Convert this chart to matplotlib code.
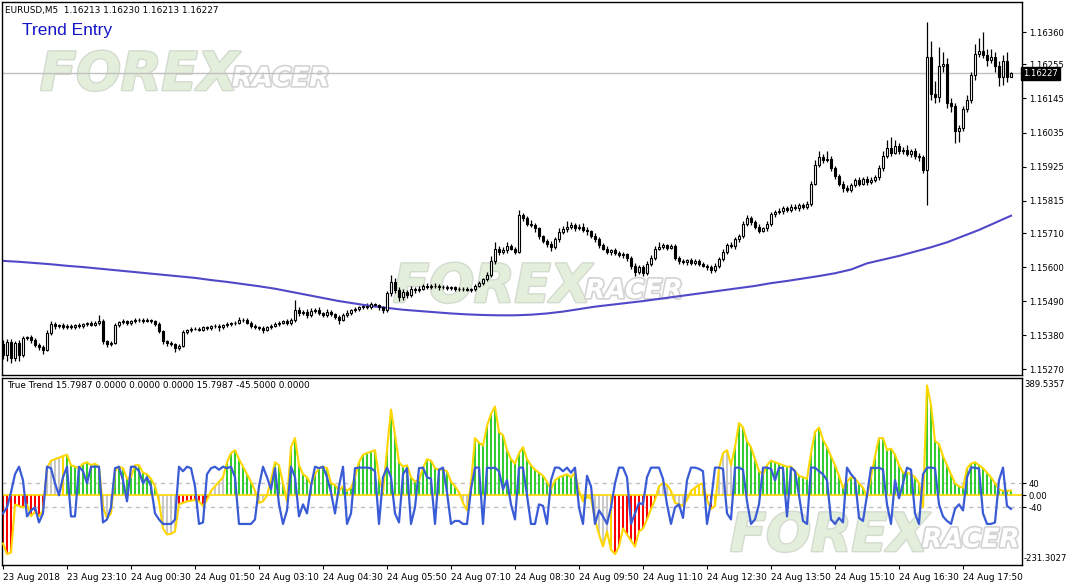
import numpy as np
import matplotlib.pyplot as plt
import matplotlib.patheffects as pe

plt.rcParams['font.family'] = ['DejaVu Sans']

# EURUSD M5, prices in points above 1.15000 (1 point = 0.00001)
first_open = 350
close_pts = [
    315, 357, 305, 354, 315, 370, 373, 364, 348, 341, 332, 387, 416, 409, 412, 406,
    410, 405, 412, 408, 415, 418, 414, 420, 425, 360, 350, 355, 412, 422, 425, 420,
    425, 428, 430, 426, 428, 424, 415, 393, 360, 354, 350, 338, 345, 390, 395, 400,
    400, 398, 405, 402, 408, 410, 406, 412, 415, 418, 420, 429, 430, 420, 410, 405,
    403, 398, 405, 410, 415, 420, 425, 418, 428, 461, 450, 455, 445, 458, 462, 450,
    445, 455, 448, 440, 430, 445, 452, 460, 465, 470, 475, 470, 480, 476, 470, 462,
    516, 551, 526, 503, 520, 510, 530, 525, 530, 540, 535, 538, 540, 535, 536, 532,
    534, 530, 528, 530, 526, 528, 540, 548, 560, 575, 620, 660, 650, 655, 668, 660,
    650, 768, 760, 740, 735, 725, 700, 685, 675, 665, 690, 712, 722, 730, 735, 726,
    728, 720, 715, 700, 690, 672, 660, 650, 655, 645, 640, 642, 630, 605, 585, 600,
    580, 610, 630, 660, 665, 670, 662, 668, 630, 620, 615, 622, 612, 620, 610, 605,
    600, 590, 605, 625, 650, 672, 668, 690, 700, 740, 760, 745, 730, 718, 725, 740,
    770, 778, 782, 790, 785, 795, 790, 800, 795, 805, 870, 930, 955, 945, 950, 920,
    895, 870, 855, 850, 865, 880, 870, 885, 875, 880, 890, 920, 960, 985, 970, 990,
    975, 980, 965, 975, 960, 955, 915, 1280, 1160, 1150, 1250, 1255, 1130, 1120, 1040, 1050,
    1110, 1140, 1220, 1290, 1300, 1285, 1270, 1280, 1250, 1215, 1265, 1213, 1227,
]
wick_up = [
    15, 10, 12, 8, 10, 8, 5, 8, 6, 5, 8, 10, 8, 6, 5, 6,
    5, 6, 4, 6, 5, 5, 6, 5, 20, 6, 5, 6, 8, 5, 6, 5,
    5, 6, 5, 5, 6, 5, 4, 6, 5, 5, 6, 5, 6, 8, 5, 6,
    6, 5, 5, 6, 5, 6, 5, 5, 6, 5, 5, 8, 6, 5, 5, 6,
    5, 6, 5, 5, 6, 5, 5, 6, 8, 32, 10, 6, 8, 10, 6, 8,
    6, 8, 6, 5, 6, 5, 8, 6, 6, 5, 6, 8, 6, 5, 6, 5,
    8, 23, 15, 10, 8, 6, 8, 6, 8, 6, 8, 6, 8, 5, 6, 5,
    6, 5, 6, 5, 6, 5, 6, 8, 6, 8, 15, 20, 8, 10, 12, 8,
    6, 16, 8, 6, 12, 8, 6, 5, 6, 8, 8, 15, 10, 20, 10, 8,
    10, 15, 8, 6, 10, 8, 6, 8, 5, 6, 8, 6, 5, 6, 8, 6,
    6, 8, 10, 8, 15, 8, 6, 8, 6, 5, 6, 5, 8, 6, 5, 6,
    5, 6, 8, 6, 8, 6, 10, 8, 6, 10, 8, 6, 8, 10, 6, 8,
    8, 6, 10, 8, 6, 8, 10, 6, 8, 10, 8, 15, 20, 10, 25, 10,
    8, 6, 8, 10, 6, 8, 10, 6, 8, 10, 8, 10, 15, 25, 35, 20,
    10, 8, 15, 8, 10, 8, 6, 112, 50, 40, 60, 40, 20, 15, 10, 10,
    10, 15, 10, 30, 40, 60, 20, 25, 15, 15, 20, 30, 3,
]
wick_dn = [
    12, 20, 15, 10, 18, 5, 6, 8, 6, 10, 12, 5, 6, 8, 5, 6,
    5, 6, 5, 4, 5, 6, 5, 5, 6, 8, 10, 5, 5, 6, 5, 6,
    6, 5, 5, 6, 5, 5, 6, 5, 8, 10, 6, 12, 5, 5, 6, 5,
    5, 6, 5, 5, 6, 5, 12, 5, 6, 5, 5, 5, 6, 5, 8, 6,
    6, 10, 5, 6, 5, 6, 5, 6, 5, 6, 8, 6, 10, 6, 8, 6,
    8, 6, 6, 8, 15, 6, 5, 6, 5, 6, 5, 6, 5, 6, 8, 10,
    6, 8, 10, 12, 8, 10, 6, 8, 6, 5, 6, 5, 6, 8, 5, 6,
    5, 6, 5, 6, 5, 6, 5, 6, 5, 6, 8, 10, 12, 8, 10, 6,
    8, 6, 10, 8, 6, 12, 10, 8, 10, 12, 6, 8, 6, 8, 6, 10,
    6, 8, 10, 6, 8, 10, 6, 8, 10, 6, 8, 10, 12, 10, 15, 8,
    10, 6, 5, 6, 5, 6, 8, 5, 8, 10, 6, 8, 6, 5, 8, 6,
    8, 10, 6, 8, 6, 8, 6, 8, 10, 6, 8, 10, 6, 8, 6, 8,
    6, 8, 6, 10, 6, 8, 6, 10, 8, 6, 8, 6, 8, 10, 6, 8,
    10, 8, 12, 6, 8, 6, 8, 6, 10, 8, 6, 8, 10, 8, 10, 6,
    8, 10, 6, 8, 10, 12, 10, 115, 20, 20, 15, 20, 15, 20, 40, 35,
    10, 10, 8, 15, 10, 10, 20, 10, 20, 30, 25, 15, 0,
]
# moving average, one value every 4 bars
ma_pts = [
    620, 617, 613, 609, 604, 600, 595, 590, 585, 580, 575, 570, 565, 558, 552, 545,
    538, 530, 520, 510, 500, 490, 482, 474, 468, 462, 458, 454, 450, 447, 445, 444,
    444, 446, 450, 456, 464, 472, 478, 484, 490, 497, 504, 511, 518, 525, 532, 539,
    548, 555, 563, 571, 580, 592, 612, 624, 636, 650, 664, 680, 700, 720, 743, 766,
]

# True Trend indicator
hist = [
    -160, -195, -190, -31, -35, -40, -30, -69, -55, -70, -50, 90, 115, 120, 125, 130,
    135, 100, 95, 90, 105, 110, 100, 105, 95, -40, -75, -60, 80, 95, 90, 55,
    60, 100, 100, 75, 70, 55, 30, -20, -110, -130, -128, -120, -30, -25, -20, -18,
    -15, -20, -35, -15, 15, 30, 45, 60, 110, 140, 150, 120, 95, 70, 45, 15,
    -25, -20, 0, 50, 110, 100, 40, -20, 160, 190, 100, 70, 60, 35, 70, 90,
    95, 90, 40, 35, 15, 30, 15, 25, 60, 110, 135, 140, 145, 150, 60, 10,
    150, 285, 200, 110, 95, 100, 60, 45, 50, 90, 120, 115, 90, 85, 85, 80,
    45, 30, 10, -25, -50, 40, 190, 175, 165, 230, 270, 295, 210, 200, 150, 120,
    105, 140, 160, 120, 100, 85, 75, 65, 45, 20, 50, 60, 65, 70, 60, 75,
    15, -20, -5, -10, -80, -130, -170, -120, -180, -195, -170, -110, -130, -150, -170, -120,
    -110, -80, -45, -15, 30, 40, 35, 15, -25, -30, -35, -15, 15, 25, 35, 40,
    -15, -45, -35, 90, 140, 150, 100, 160, 240, 225, 180, 160, 120, 80, 70, 100,
    115, 110, 105, 100, 95, 95, 80, 65, 60, 55, 140, 210, 225, 185, 160, 130,
    100, 65, 25, 45, 60, 55, 40, 25, -5, 60, 130, 190, 190, 150, 155, 135,
    100, 75, 75, 70, 60, 40, -40, 365, 300, 180, 170, 130, 100, 70, 40, 30,
    25, 90, 105, 110, 100, 90, 75, 60, 40, 20, 15, 15, 15.7987,
]
# bar colour per bar: g green, r red, s silver, y gold
hist_cols = ''.join([
    'rrrrrrrrrrrssssy', 'gggggggggsssgggg', 'gggggggsssssrrrr', 'rrrrssssgggggggs',
    'sssggggsgggggggg', 'gggggggggggggggg', 'gggggggggggggggg', 'gggssggggggggggg',
    'gggggggggggggggg', 'gyyyssssyrrrrrrr', 'rrrrssssssssyyyy', 'rryssssggggggggg',
    'gggggggggggggggg', 'ggggggggyggggggg', 'ggggggyggggggggg', 'ggggggggggggg',
])
blue = [
    -60, -40, 10, 70, 95, 50, -70, -50, -40, -90, -60, 95, 90, 40, 0, 60,
    95, -70, -70, 95, 80, 40, 95, 95, 95, -90, -80, -40, 90, 95, 50, -20,
    95, 95, 80, 40, 60, 30, -60, -80, -95, -95, -95, -80, 95, 80, 95, 90,
    30, -95, -90, 70, 90, 95, 85, 95, 90, 95, 60, -95, -95, -95, -95, -80,
    30, 95, 60, 20, 90, -30, -95, -50, 95, 60, -70, -30, -60, 30, 95, 90,
    95, 60, 10, -60, 30, 95, -95, -60, 90, 92, 92, 92, 90, 80, -95, 60,
    92, 60, -60, -90, 70, 90, -95, -40, 90, 92, 60, 55, -95, 85, 92, 10,
    -95, -85, -85, -95, -95, 20, 92, 92, -95, 92, 90, 92, 80, 20, 50, -30,
    -80, 92, 92, 0, -95, -95, -30, -35, -95, 50, 92, 92, 80, 92, 75, 92,
    -40, -95, 65, 30, -95, -50, -70, -95, -40, 40, 92, 92, 60, -95, -60, -25,
    -30, 60, 92, 92, 92, 55, -30, -95, -40, -30, -75, 50, 92, 92, 88, 80,
    -95, -20, 92, 92, 88, -60, -80, 92, 92, 85, -20, -95, -80, -30, 92, 92,
    88, 50, 92, 90, -70, 92, 80, 0, -85, -95, 92, 92, 80, 70, 50, -80,
    -95, -75, -90, 92, 70, 55, -75, -85, 0, 92, 90, 92, 85, -30, -95, 50,
    -10, 40, 92, 85, -60, -95, 70, 92, 92, 90, -30, -70, -85, -95, -45, -30,
    -50, 60, 92, 92, 88, -60, -95, -95, -90, 50, 92, -35, -45,
]

time_labels = ['23 Aug 2018', '23 Aug 23:10', '24 Aug 00:30', '24 Aug 01:50',
               '24 Aug 03:10', '24 Aug 04:30', '24 Aug 05:50', '24 Aug 07:10',
               '24 Aug 08:30', '24 Aug 09:50', '24 Aug 11:10', '24 Aug 12:30',
               '24 Aug 13:50', '24 Aug 15:10', '24 Aug 16:30', '24 Aug 17:50']
price_ticks = [1.16360, 1.16255, 1.16145, 1.16035, 1.15925, 1.15815,
               1.15710, 1.15600, 1.15490, 1.15380, 1.15270]
last_price = 1.16227

n = len(close_pts)
x = np.arange(n)
c = 1.15 + np.array(close_pts) / 1e5
o = 1.15 + np.array([first_open] + close_pts[:-1]) / 1e5
hi = np.maximum(o, c) + np.array(wick_up) / 1e5
lo = np.minimum(o, c) - np.array(wick_dn) / 1e5

FS = 6.1
W, H = 1068, 588
fig = plt.figure(figsize=(W / 100, H / 100), dpi=100)
ax = fig.add_axes([2 / W, (H - 375) / H, 1020 / W, 373 / H])
ax2 = fig.add_axes([2 / W, (H - 565) / H, 1020 / W, 187 / H], sharex=ax)

def px(xp, yp):
    return xp / W, 1 - yp / H

def logo(a, xp, yp):
    # FOREX RACER watermark
    a.text(*px(xp, yp), 'FOREX', transform=fig.transFigure, fontsize=38,
           fontweight='heavy', style='italic', color='#e3eedb', va='center',
           zorder=0.5, path_effects=[pe.withStroke(linewidth=2, foreground='#d3dbcf')])
    a.text(*px(xp + 192, yp + 4), 'RACER', transform=fig.transFigure, fontsize=19,
           fontweight='heavy', style='italic', color='white', va='center',
           zorder=0.5, path_effects=[pe.withStroke(linewidth=2.5, foreground='#d4d4d4')])

# ---- main chart ----
ax.axhline(last_price, color='#c0c0c0', lw=1, zorder=1)
ax.vlines(x, lo, hi, color='black', lw=0.9, zorder=2)
bull = c >= o
body_h = np.maximum(np.abs(c - o), 0.000012)
ax.bar(x, body_h, bottom=np.minimum(o, c), width=0.62,
       color=np.where(bull, 'white', 'black'), edgecolor='black', lw=0.8, zorder=3)
ax.plot(x[::4], 1.15 + np.array(ma_pts) / 1e5, color='#5148c8', lw=1.5, zorder=2.5)

ax.set_xlim(-0.25, 254.75)
ax.set_ylim(1.15251, 1.16457)
ax.set_yticks(price_ticks)
ax.set_yticklabels(['%.5f' % p for p in price_ticks])
ax.tick_params(axis='y', left=False, labelleft=False, right=True, labelright=True,
               direction='out', length=3, pad=2, labelsize=FS)
ax.tick_params(axis='x', bottom=False, labelbottom=False)
ax.text(1.001, last_price, '1.16227', transform=ax.get_yaxis_transform(), color='white',
        fontsize=FS, va='center', ha='left', zorder=10, clip_on=False,
        bbox=dict(boxstyle='square,pad=0.25', fc='black', ec='black'))
logo(ax, 40, 75)
logo(ax, 393, 287)

fig.text(*px(5, 10), 'EURUSD,M5  1.16213 1.16230 1.16213 1.16227', fontsize=6.4, va='center')
fig.text(*px(22, 30), 'Trend Entry', fontsize=12.5, color='#1515c8', va='center',
         family='Liberation Sans')

# ---- indicator ----
col_map = {'g': '#32cd32', 'r': '#ff0000', 's': '#c8c8c8', 'y': '#ffd700'}
logo(ax2, 730, 536)
ax2.axhline(40, color='#c0c0c0', lw=1, ls=(0, (3, 3)), zorder=1)
ax2.axhline(-40, color='#c0c0c0', lw=1, ls=(0, (3, 3)), zorder=1)
ax2.bar(x, hist, width=0.6, color=[col_map[k] for k in hist_cols], lw=0, zorder=2)
ax2.axhline(0, color='#ffd700', lw=1.2, zorder=2.5)
ax2.plot(x, hist, color='#ffd700', lw=1.5, zorder=3)
ax2.plot(x, blue, color='#3a5bd6', lw=1.6, zorder=4)
ax2.set_ylim(-231.3027, 389.5357)
ax2.set_yticks([40, 0, -40])
ax2.set_yticklabels(['40', '0.00', '-40'])
ax2.tick_params(axis='y', left=False, labelleft=False, right=True, labelright=True,
                direction='out', length=3, pad=2, labelsize=FS)
ax2.text(1.002, 0.99, '389.5357', transform=ax2.transAxes, fontsize=FS, va='top')
ax2.text(1.002, 0.01, '-231.3027', transform=ax2.transAxes, fontsize=FS, va='bottom')
ax2.text(*px(7, 386), 'True Trend 15.7987 0.0000 0.0000 0.0000 15.7987 -45.5000 0.0000',
         transform=fig.transFigure, fontsize=6.4, va='center', zorder=10)

ax2.set_xticks(np.arange(0, 16 * len(time_labels), 16))
ax2.set_xticklabels(time_labels, ha='left')
ax2.tick_params(axis='x', direction='out', length=3, pad=3, labelsize=6.4)

for a in (ax, ax2):
    for s in a.spines.values():
        s.set_color('black')
        s.set_linewidth(1)

fig.savefig('out.png', dpi=100, facecolor='white')
